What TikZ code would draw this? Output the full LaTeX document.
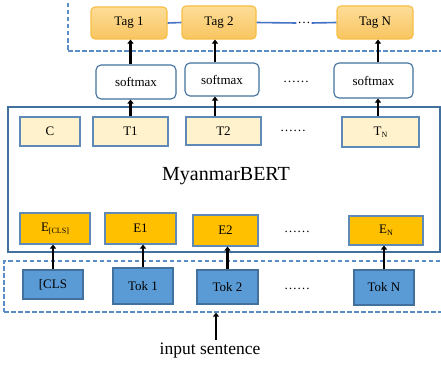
\documentclass[tikz,border=0pt]{standalone}
\usepackage{fontspec}
\setmainfont{Liberation Serif}
\usetikzlibrary{arrows.meta}
\definecolor{tagtop}{HTML}{FDDD98}
\definecolor{tagbot}{HTML}{F8C560}
\definecolor{tagedge}{HTML}{F7BE45}
\definecolor{edgeblue}{HTML}{41719C}
\definecolor{tedge}{HTML}{5F8AB8}
\definecolor{cream}{HTML}{FFF2CC}
\definecolor{gold}{HTML}{FFC000}
\definecolor{tokblue}{HTML}{5B9BD5}
\definecolor{dashblue}{HTML}{5A8CC6}
\definecolor{linkblue}{HTML}{4472C4}
\newcommand{\sbx}[1]{\raisebox{-0.35ex}{\fontsize{8}{9}\selectfont #1}}
\tikzset{
  box/.style={draw, line width=1.1pt, inner sep=0pt, font=\fontsize{13}{15}\selectfont},
  tagbox/.style={box, draw=tagedge, rounded corners=4pt, top color=tagtop, bottom color=tagbot},
  smbox/.style={box, draw=edgeblue, rounded corners=5pt, fill=white},
  tbox/.style={box, draw=tedge, fill=cream},
  ebox/.style={box, draw=tedge, fill=gold},
  tokbox/.style={box, draw=edgeblue, fill=tokblue},
  dashbox/.style={draw=dashblue, line width=1.2pt, dashed, dash pattern=on 4.5pt off 2.5pt, inner sep=0pt},
  arr/.style={line width=2.6pt, -{Triangle[length=4pt,width=6pt]}},
  dots/.style={font=\fontsize{13}{15}\selectfont, inner sep=1pt},
  link/.style={draw=linkblue, line width=1.6pt}
}
\begin{document}
\begin{tikzpicture}[x=1pt,y=-1pt]
\useasboundingbox (0,0) rectangle (441,369);
\clip (0,0) rectangle (441,369);
% containers
\node[dashbox, minimum width=377pt, minimum height=60pt] (topbox) at (256.5,21) {};
\node[draw=edgeblue, line width=1.2pt, inner sep=0pt, minimum width=432pt, minimum height=145pt] (bert) at (224,179.5) {};
\node[dashbox, minimum width=441pt, minimum height=51pt] (inbox) at (224.5,286.5) {};
\node[font=\fontsize{20}{24}\selectfont] (bertlabel) at (226,176) {MyanmarBERT};
% tags
\node[tagbox, minimum width=76pt, minimum height=32pt] (tag1) at (129,23) {Tag 1};
\node[tagbox, minimum width=74pt, minimum height=33pt] (tag2) at (219,22.5) {Tag 2};
\node[tagbox, minimum width=76pt, minimum height=33pt] (tagN) at (375,22.5) {Tag N};
\node[dots] (tagdots) at (304,23) {\ldots};
\draw[link] (tag1.east) -- (tag2.west);
\draw[link] (tag2.east) -- (tagdots.west);
\draw[link] (tagdots.east) -- (tagN.west);
% softmax
\node[smbox, minimum width=80pt, minimum height=34pt] (sm1) at (136,82) {softmax};
\node[smbox, minimum width=74pt, minimum height=33pt] (sm2) at (222,79.5) {softmax};
\node[smbox, minimum width=79pt, minimum height=35pt] (smN) at (373.5,80.5) {softmax};
\node[dots] (smdots) at (296,82) {\ldots\ldots};
% T row
\node[tbox, minimum width=60pt, minimum height=29pt] (c) at (50,131.5) {C};
\node[tbox, minimum width=75pt, minimum height=29pt] (t1) at (130.5,131.5) {T1};
\node[tbox, minimum width=75pt, minimum height=28pt] (t2) at (223.5,131) {T2};
\node[tbox, minimum width=77pt, minimum height=30pt] (tN) at (380.5,132) {T\sbx{N}};
\node[dots] (tdots) at (293,131) {\ldots\ldots};
% E row
\node[ebox, minimum width=70pt, minimum height=31pt] (e0) at (55,228.5) {E\sbx{[CLS]}};
\node[ebox, minimum width=71pt, minimum height=31pt] (e1) at (140.5,228.5) {E1};
\node[ebox, minimum width=65pt, minimum height=31pt] (e2) at (225.5,230.5) {E2};
\node[ebox, minimum width=74pt, minimum height=29pt] (eN) at (386,230.5) {E\sbx{N}};
\node[dots] (edots) at (297,232) {\ldots\ldots};
% tokens
\node[tokbox, minimum width=60pt, minimum height=29pt] (tok0) at (53,284.5) {[CLS};
\node[tokbox, minimum width=60pt, minimum height=36pt] (tok1) at (143,286) {Tok 1};
\node[tokbox, minimum width=61pt, minimum height=34pt] (tok2) at (227.5,287) {Tok 2};
\node[tokbox, minimum width=60pt, minimum height=35pt] (tokN) at (384,287.5) {Tok N};
\node[dots] (tokdots) at (297,289) {\ldots\ldots};
% input
\node[font=\fontsize{17.5}{21}\selectfont] (input) at (210,351) {input sentence};
% arrows
\draw[arr] (tok0.north) -- (tok0.north |- e0.south);
\draw[arr] (tok1.north) -- (tok1.north |- e1.south);
\draw[arr] (tok2.north) -- (tok2.north |- e2.south);
\draw[arr] (tokN.north) -- (tokN.north |- eN.south);
\draw[arr] ([xshift=6pt]input.north) -- ([xshift=6pt]input.north |- inbox.south);
\draw[arr] (t1.north) -- (t1.north |- sm1.south);
\draw[arr] (t1.north |- sm1.north) -- (t1.north |- tag1.south);
\draw[arr] ([xshift=-8.5pt]t2.north) -- ([xshift=-8.5pt]t2.north |- sm2.south);
\draw[arr] ([xshift=-8.5pt]t2.north |- sm2.north) -- ([xshift=-8.5pt]t2.north |- tag2.south);
\draw[arr] ([xshift=-2.5pt]tN.north) -- ([xshift=-2.5pt]tN.north |- smN.south);
\draw[arr] ([xshift=-2.5pt]tN.north |- smN.north) -- ([xshift=-2.5pt]tN.north |- tagN.south);
\end{tikzpicture}
\end{document}
